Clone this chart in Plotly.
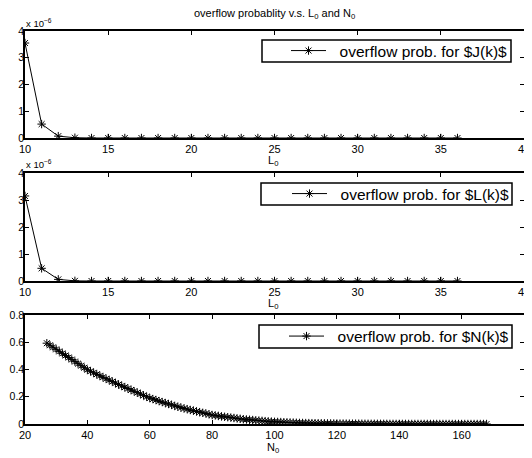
import plotly.graph_objects as go

# ---- data ----
L0 = list(range(10, 37))
prob_J = [3.55e-6, 0.52e-6, 0.07e-6, 0.01e-6] + [0.0] * 23
prob_L = [3.15e-6, 0.47e-6, 0.06e-6, 0.005e-6] + [0.0] * 23

N0 = list(range(27, 169))
prob_N = [
    0.593, 0.578, 0.563, 0.548, 0.533, 0.518, 0.503, 0.488, 0.473, 0.458,
    0.443, 0.428, 0.413, 0.398, 0.387, 0.376, 0.365, 0.354, 0.343, 0.332,
    0.322, 0.311, 0.300, 0.290, 0.280, 0.270, 0.260, 0.250, 0.240, 0.230,
    0.220, 0.210, 0.200, 0.190, 0.183, 0.176, 0.168, 0.161, 0.154, 0.147,
    0.140, 0.133, 0.127, 0.120, 0.114, 0.109, 0.103, 0.098, 0.092, 0.087,
    0.082, 0.077, 0.071, 0.066, 0.063, 0.059, 0.056, 0.053, 0.050, 0.047,
    0.044, 0.041, 0.038, 0.035, 0.033, 0.031, 0.029, 0.027, 0.025, 0.023,
    0.021, 0.019, 0.017, 0.016, 0.015, 0.014, 0.013, 0.012, 0.011, 0.010,
    0.009, 0.008, 0.0075, 0.007, 0.0066, 0.0062, 0.0058, 0.0054, 0.0050, 0.0046,
    0.0042, 0.0038, 0.0034, 0.0030, 0.0028, 0.0027, 0.0025, 0.0024, 0.0022, 0.0021,
    0.0019, 0.0018, 0.0016, 0.0015, 0.0014, 0.0013, 0.0012, 0.0011, 0.0010, 0.0009,
    0.0008, 0.0007, 0.0006, 0.0005, 0.0005, 0.0005, 0.0004, 0.0004, 0.0004, 0.0003,
    0.0003, 0.0003, 0.0003, 0.0002, 0.0002, 0.0002, 0.0002, 0.0002, 0.0001, 0.0001,
    0.0001, 0.0001, 0.0001, 0.0001, 0.0001, 0.0, 0.0, 0.0, 0.0, 0.0,
    0.0, 0.0,
]

names = ["overflow prob. for $J(k)$", "overflow prob. for $L(k)$", "overflow prob. for $N(k)$"]
title_text = "overflow probablity v.s. L<sub>0</sub> and N<sub>0</sub>"

FONT = "Liberation Sans, Arial, Helvetica, sans-serif"
PAD = "\u00a0" * 2  # spacing between legend sample and label

# The page body has an 8px default margin; the figure is sized so it fills the rest.
OFF = 8
W, H = 532 - OFF, 458 - OFF
PL, PR, PT, PB = 25, 524, 31, 424  # plot area in reference pixels


def px(pix):
    return (pix - PL) / (PR - PL)


def py(pix):
    return (PB - pix) / (PB - PT)


fig = go.Figure()

mk = dict(symbol="asterisk-open", size=7, color="black", line=dict(color="black", width=1))

fig.add_trace(go.Scatter(x=L0, y=prob_J, mode="lines+markers", name=PAD + names[0],
                         line=dict(color="black", width=1), marker=mk,
                         xaxis="x", yaxis="y", legend="legend"))
fig.add_trace(go.Scatter(x=L0, y=prob_L, mode="lines+markers", name=PAD + names[1],
                         line=dict(color="black", width=1), marker=mk,
                         xaxis="x2", yaxis="y2", legend="legend2"))
fig.add_trace(go.Scatter(x=N0, y=prob_N, mode="lines+markers", name=PAD + names[2],
                         line=dict(color="black", width=1), marker=mk,
                         xaxis="x3", yaxis="y3", legend="legend3"))

axis_common = dict(showline=True, linecolor="black", linewidth=1.5, mirror="ticks",
                   ticks="inside", ticklen=4, tickcolor="black", tickwidth=1, showgrid=False,
                   zeroline=False, automargin=False,
                   tickfont=dict(size=11, color="black", family=FONT))
yax_common = dict(axis_common, ticklabelstandoff=-3,
                  tickfont=dict(size=10.5, color="black", family=FONT))

d1 = [py(138), py(31)]
d2 = [py(281), py(173)]
d3 = [py(424), py(315)]

fig.update_layout(
    width=W, height=H,
    margin=dict(l=PL - OFF, r=532 - PR, t=PT - OFF, b=458 - PB, autoexpand=False),
    paper_bgcolor="white", plot_bgcolor="white",
    font=dict(family=FONT, color="black"),
    showlegend=True,
    xaxis=dict(axis_common, domain=[0, 1], range=[10, 40], tickvals=[10, 15, 20, 25, 30, 35, 40], anchor="y"),
    yaxis=dict(yax_common, domain=d1, range=[0, 4e-6], tickvals=[0, 1e-6, 2e-6, 3e-6, 4e-6],
               ticktext=["0", "1", "2", "3", "4"], anchor="x"),
    xaxis2=dict(axis_common, domain=[0, 1], range=[10, 40], tickvals=[10, 15, 20, 25, 30, 35, 40], anchor="y2"),
    yaxis2=dict(yax_common, domain=d2, range=[0, 4e-6], tickvals=[0, 1e-6, 2e-6, 3e-6, 4e-6],
                ticktext=["0", "1", "2", "3", "4"], anchor="x2"),
    xaxis3=dict(axis_common, domain=[0, 1], range=[20, 180], tickvals=list(range(20, 181, 20)), anchor="y3"),
    yaxis3=dict(yax_common, domain=d3, range=[0, 0.8], tickvals=[0, 0.2, 0.4, 0.6, 0.8],
                ticktext=["0", "0.2", "0.4", "0.6", "0.8"], anchor="x3"),
)

# legend boxes (reference pixels): (left, right, top, bottom)
boxes = [(262, 511, 40, 62), (261, 512, 183, 205), (259, 512, 325, 348)]

leg_common = dict(xref="paper", yref="paper", xanchor="right", yanchor="middle",
                  bgcolor="rgba(0,0,0,0)", borderwidth=0,
                  font=dict(size=15.5, color="black", family=FONT), itemwidth=35)
legs = {}
for i, (l, r, t, b) in enumerate(boxes):
    key = "legend" if i == 0 else f"legend{i + 1}"
    legs[key] = dict(leg_common, x=px(r + 2), y=py((t + b) / 2))
fig.update_layout(**legs)

shapes = []
for (l, r, t, b) in boxes:
    shapes.append(dict(type="rect", xref="paper", yref="paper",
                       x0=px(l), x1=px(r), y0=py(b), y1=py(t),
                       line=dict(color="black", width=1.5), fillcolor="rgba(0,0,0,0)",
                       layer="above"))
fig.update_layout(shapes=shapes)

ann = [
    dict(text=title_text, x=px(274), y=py(14), xref="paper", yref="paper", showarrow=False,
         font=dict(size=11, family=FONT), xanchor="center", yanchor="middle"),
    dict(text="x 10<sup>−6</sup>", x=px(24), y=py(23), xref="paper", yref="paper", showarrow=False,
         font=dict(size=9.5, family=FONT), xanchor="left", yanchor="middle"),
    dict(text="x 10<sup>−6</sup>", x=px(24), y=py(164), xref="paper", yref="paper", showarrow=False,
         font=dict(size=9.5, family=FONT), xanchor="left", yanchor="middle"),
    dict(text="L<sub>0</sub>", x=px(273), y=py(161), xref="paper", yref="paper", showarrow=False,
         font=dict(size=11, family=FONT), xanchor="center", yanchor="middle"),
    dict(text="L<sub>0</sub>", x=px(273), y=py(304), xref="paper", yref="paper", showarrow=False,
         font=dict(size=11, family=FONT), xanchor="center", yanchor="middle"),
    dict(text="N<sub>0</sub>", x=px(273), y=py(448), xref="paper", yref="paper", showarrow=False,
         font=dict(size=11, family=FONT), xanchor="center", yanchor="middle"),
]
fig.update_layout(annotations=ann)

fig.write_html("out.html")
